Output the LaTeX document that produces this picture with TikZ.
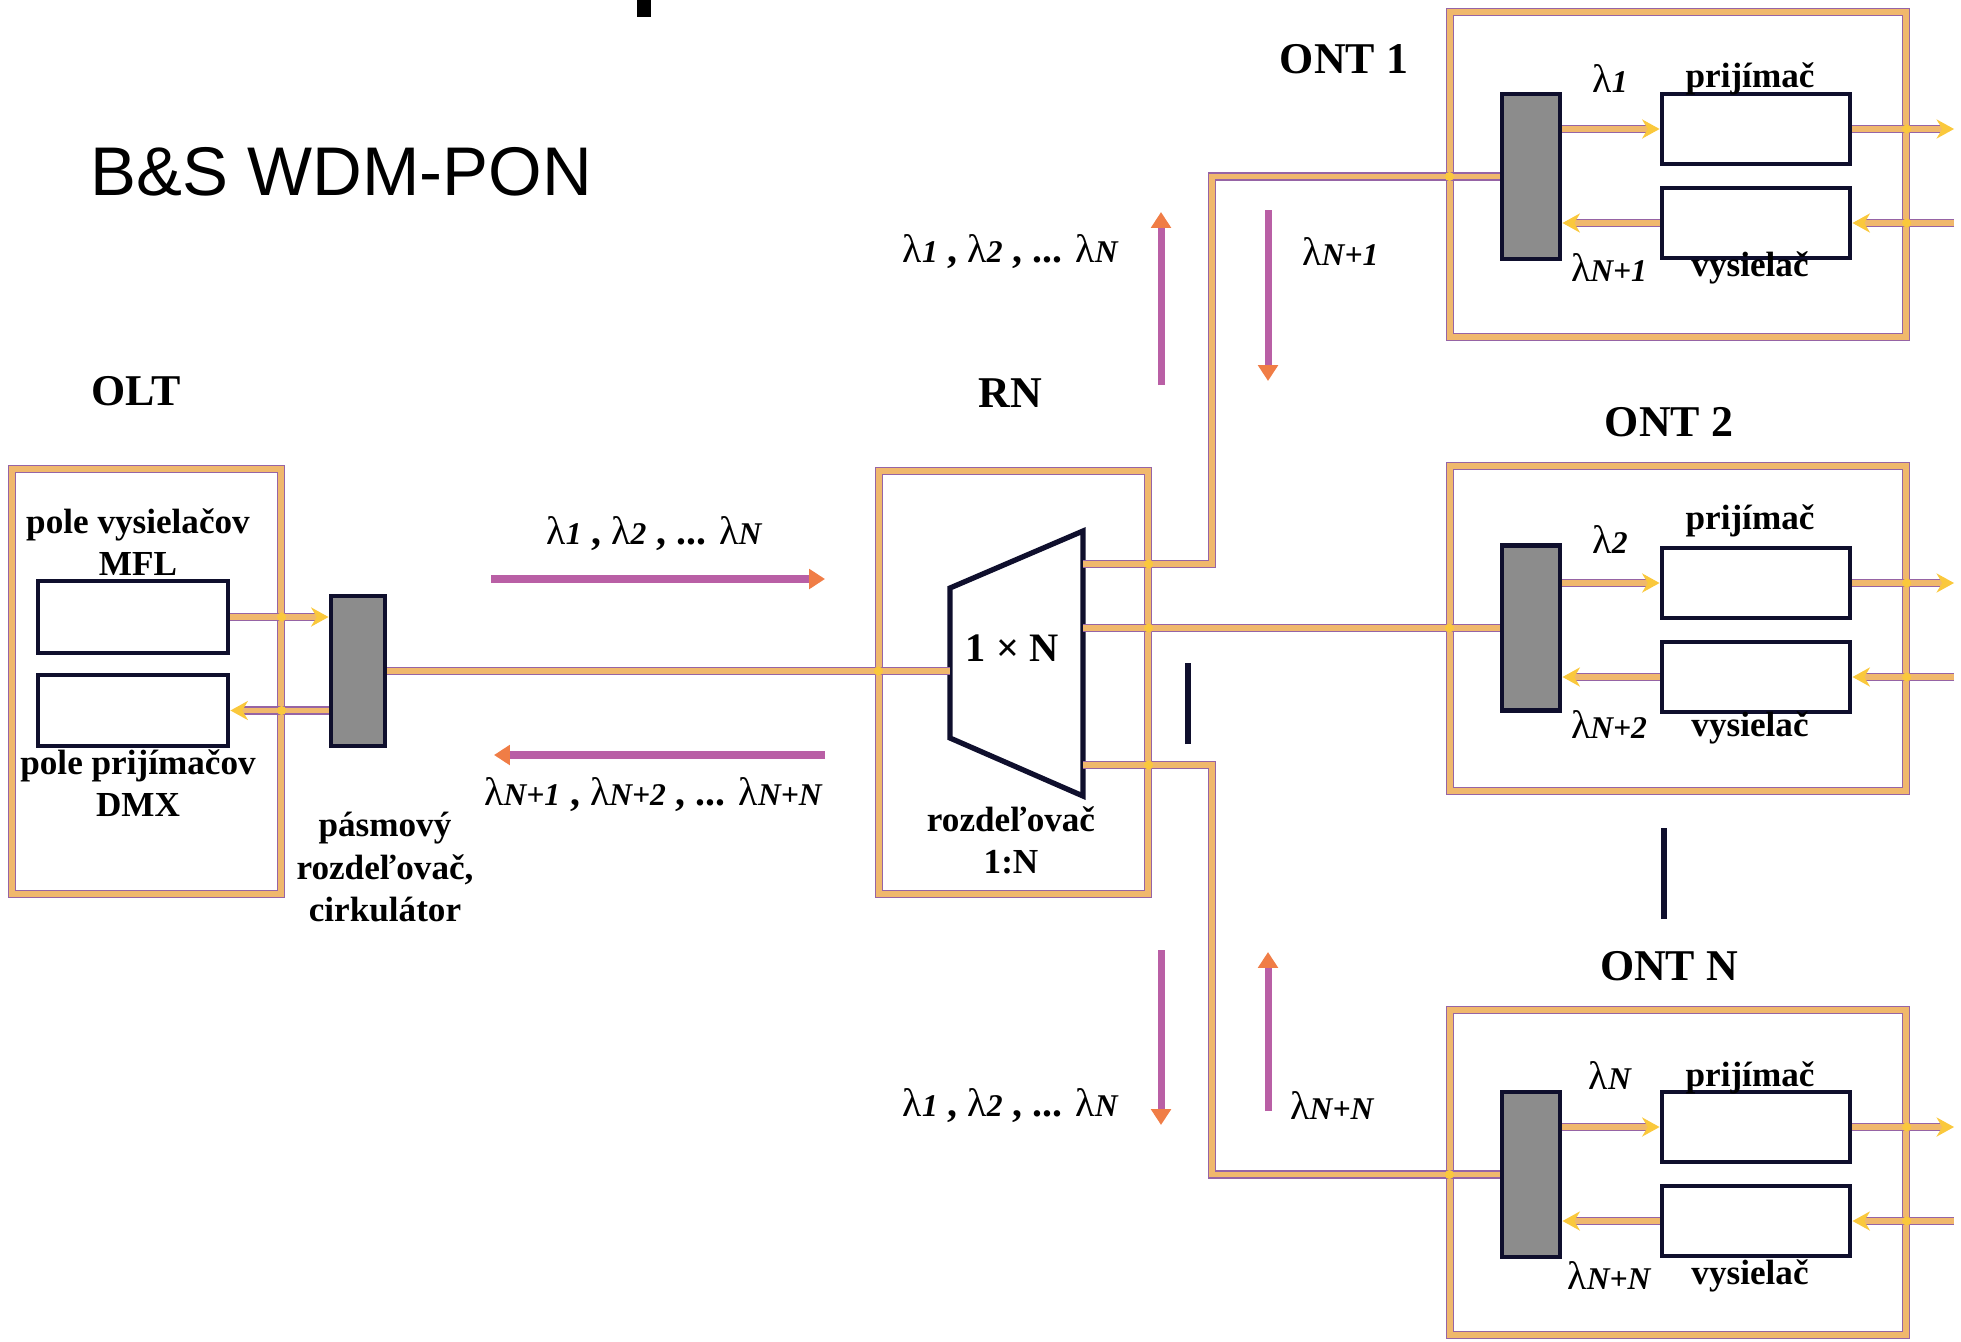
\documentclass[tikz,border=0pt]{standalone}
\usepackage{fontspec}
\setmainfont{Liberation Serif}
\setsansfont{Liberation Sans}
\definecolor{ponfiber}{RGB}{240,184,108}
\definecolor{ponedge}{RGB}{150,100,165}
\definecolor{ponyellow}{RGB}{250,200,60}
\definecolor{ponnavy}{RGB}{15,15,45}
\definecolor{pongray}{RGB}{140,140,140}
\definecolor{ponpurple}{RGB}{185,95,165}
\definecolor{ponorange}{RGB}{240,125,70}
\usetikzlibrary{arrows.meta,positioning,calc}
\newcommand{\lam}[1]{λ{\bfseries\itshape\small #1}}

\begin{document}
\begin{tikzpicture}[
  site/.style={draw=ponedge,double=ponfiber,double distance=1.6pt,line width=0.35pt,inner sep=0pt},
  fiber/.style={draw=ponedge,double=ponfiber,double distance=1.6pt,line width=0.35pt},
  sig/.style={fiber,-{Stealth[length=5pt,width=5.5pt,color=ponyellow]}},
  dev/.style={draw=ponnavy,line width=1.4pt,fill=white,inner sep=0pt},
  band/.style={dev,fill=pongray},
  warr/.style={ponpurple,line width=2pt,-{Triangle[length=4.5pt,width=5.5pt,color=ponorange]}},
  lbl/.style={font=\bfseries,align=center},
  head/.style={font=\fontsize{12.5}{15}\selectfont\bfseries},
  wl/.style={font=\fontsize{11.3}{13.5}\selectfont}
]
  \useasboundingbox (0,0) rectangle (19.61,13.41);
  \fill (6.37,13.24) rectangle (6.51,13.41);
  \node[font=\fontsize{19.6}{24}\selectfont\sffamily,anchor=west,inner sep=0pt] (title) at (0.90,11.69) {B\&S WDM-PON};
  % OLT
  \node[head] (oltlbl) at (1.36,9.50) {OLT};
  \node[site,minimum width=2.69cm,minimum height=4.25cm] (olt) at (1.465,6.595) {};
  \node[dev,minimum width=1.90cm,minimum height=0.72cm] (tx) at (1.33,7.24) {};
  \node[dev,minimum width=1.90cm,minimum height=0.71cm] (rx) at (1.33,6.305) {};
  \node[lbl] (txlbl) at (1.38,7.99) {pole vysielačov\\MFL};
  \node[lbl] (rxlbl) at (1.38,5.58) {pole prijímačov\\DMX};
  \node[band,minimum width=0.54cm,minimum height=1.50cm] (band) at (3.58,6.70) {};
  \node[lbl] (bandlbl) at (3.85,4.74) {pásmový\\rozdeľovač,\\cirkulátor};
  % RN
  \node[head] (rnlbl) at (10.10,9.48) {RN};
  \node[site,minimum width=2.69cm,minimum height=4.23cm] (rn) at (10.135,6.585) {};
  \draw[ponnavy,line width=1.5pt] (9.50,6.03) -- (9.50,7.53) -- (10.83,8.10) -- (10.83,5.45) -- cycle;
  \coordinate (splin) at (9.50,6.70);
  \coordinate (splo1) at (10.83,7.77);
  \coordinate (splo2) at (10.83,7.13);
  \coordinate (splo3) at (10.83,5.76);
  \node[font=\fontsize{11.5}{14}\selectfont\bfseries] (spl) at (10.12,6.93) {1 × N};
  \node[lbl] (spllbl) at (10.11,5.01) {rozdeľovač\\1:N};
  % ONT 1
  \node[head] (ont1lbl) at (13.44,12.82) {ONT 1};
  \node[site,minimum width=4.56cm,minimum height=3.25cm] (ont1) at (16.78,11.665) {};
  \node[band,minimum width=0.58cm,minimum height=1.65cm] (g1) at (15.31,11.645) {};
  \node[dev,minimum width=1.88cm,minimum height=0.70cm] (r1) at (17.56,12.12) {};
  \node[dev,minimum width=1.88cm,minimum height=0.70cm] (t1) at (17.56,11.18) {};
  \node[wl] (l1) at (16.10,12.62) {\lam{1}};
  \node[lbl] (r1lbl) at (17.50,12.62) {prijímač};
  \node[wl] (u1) at (16.09,10.73) {\lam{N+1}};
  \node[lbl] (t1lbl) at (17.50,10.73) {vysielač};
  % ONT 2
  \node[head] (ont2lbl) at (16.69,9.19) {ONT 2};
  \node[site,minimum width=4.56cm,minimum height=3.25cm] (ont2) at (16.78,7.125) {};
  \node[band,minimum width=0.58cm,minimum height=1.65cm] (g2) at (15.31,7.13) {};
  \node[dev,minimum width=1.88cm,minimum height=0.70cm] (r2) at (17.56,7.58) {};
  \node[dev,minimum width=1.88cm,minimum height=0.70cm] (t2) at (17.56,6.64) {};
  \node[wl] (l2) at (16.10,8.01) {\lam{2}};
  \node[lbl] (r2lbl) at (17.50,8.20) {prijímač};
  \node[wl] (u2) at (16.09,6.16) {\lam{N+2}};
  \node[lbl] (t2lbl) at (17.50,6.13) {vysielač};
  % ONT N
  \node[head] (ont3lbl) at (16.69,3.75) {ONT N};
  \node[site,minimum width=4.56cm,minimum height=3.25cm] (ont3) at (16.78,1.685) {};
  \node[band,minimum width=0.58cm,minimum height=1.65cm] (g3) at (15.31,1.665) {};
  \node[dev,minimum width=1.88cm,minimum height=0.70cm] (r3) at (17.56,2.14) {};
  \node[dev,minimum width=1.88cm,minimum height=0.70cm] (t3) at (17.56,1.20) {};
  \node[wl] (l3) at (16.10,2.66) {\lam{N}};
  \node[lbl] (r3lbl) at (17.50,2.63) {prijímač};
  \node[wl] (u3) at (16.09,0.66) {\lam{N+N}};
  \node[lbl] (t3lbl) at (17.50,0.65) {vysielač};
  \coordinate (rim) at (19.54,0);
  % Fibers
  \draw[sig] (tx.east) -- (band.west |- tx.east);
  \draw[sig] (band.west |- rx.east) -- (rx.east);
  \draw[fiber] (band.east) -- (splin);
  \draw[fiber] (splo1) -- ++(1.29,0) |- (g1.west);
  \draw[fiber] (splo2) -- (splo2 -| g2.west);
  \draw[fiber] (splo3) -- ++(1.29,0) |- (g3.west);
  \draw[sig] (g1.east |- r1.west) -- (r1.west);
  \draw[sig] (t1.west) -- (g1.east |- t1.west);
  \draw[sig] (r1.east) -- (r1.east -| rim);
  \draw[sig] (t1.east -| rim) -- (t1.east);
  \draw[sig] (g2.east |- r2.west) -- (r2.west);
  \draw[sig] (t2.west) -- (g2.east |- t2.west);
  \draw[sig] (r2.east) -- (r2.east -| rim);
  \draw[sig] (t2.east -| rim) -- (t2.east);
  \draw[sig] (g3.east |- r3.west) -- (r3.west);
  \draw[sig] (t3.west) -- (g3.east |- t3.west);
  \draw[sig] (r3.east) -- (r3.east -| rim);
  \draw[sig] (t3.east -| rim) -- (t3.east);
  % Crossings
  \fill[ponyellow] (olt.east |- tx.east) circle (1.3pt) (olt.east |- rx.east) circle (1.3pt)
    (rn.west |- splin) circle (1.3pt) (rn.east |- splo1) circle (1.3pt)
    (rn.east |- splo2) circle (1.3pt) (rn.east |- splo3) circle (1.3pt)
    (ont1.west |- g1.west) circle (1.3pt) (ont2.west |- g2.west) circle (1.3pt)
    (ont3.west |- g3.west) circle (1.3pt)
    (ont1.east |- r1.east) circle (1.3pt) (ont1.east |- t1.east) circle (1.3pt)
    (ont2.east |- r2.east) circle (1.3pt) (ont2.east |- t2.east) circle (1.3pt)
    (ont3.east |- r3.east) circle (1.3pt) (ont3.east |- t3.east) circle (1.3pt);
  % Wavelengths
  \node[wl] (dslbl) at (6.54,8.07) {\lam{1} \textbf{,} \lam{2} \textbf{, ...} \lam{N}};
  \node[wl] (uslbl) at (6.53,5.46) {\lam{N+1} \textbf{,} \lam{N+2} \textbf{, ...} \lam{N+N}};
  \node[wl,anchor=east] (ds1lbl) at (11.30,10.89) {\lam{1} \textbf{,} \lam{2} \textbf{, ...} \lam{N}};
  \node[wl,anchor=west] (us1lbl) at (12.90,10.89) {\lam{N+1}};
  \node[wl,anchor=east] (ds3lbl) at (11.30,2.35) {\lam{1} \textbf{,} \lam{2} \textbf{, ...} \lam{N}};
  \node[wl,anchor=west] (us3lbl) at (12.78,2.35) {\lam{N+N}};
  \coordinate (dsa) at (4.91,7.62); \coordinate (dsb) at (8.25,7.62);
  \coordinate (usa) at (8.25,5.86); \coordinate (usb) at (4.94,5.86);
  \coordinate (ua1) at (11.61,9.56); \coordinate (ub1) at (11.61,11.29);
  \coordinate (da1) at (12.68,11.31); \coordinate (db1) at (12.68,9.60);
  \coordinate (da3) at (11.61,3.91); \coordinate (db3) at (11.61,2.16);
  \coordinate (ua3) at (12.68,2.30); \coordinate (ub3) at (12.68,3.89);
  \draw[warr] (dsa) -- (dsb);
  \draw[warr] (usa) -- (usb);
  \draw[warr] (ua1) -- (ub1);
  \draw[warr] (da1) -- (db1);
  \draw[warr] (da3) -- (db3);
  \draw[warr] (ua3) -- (ub3);
  % Continuation marks
  \draw[ponnavy,line width=1.6pt] (11.88,5.97) -- (11.88,6.78);
  \draw[ponnavy,line width=1.6pt] (16.64,4.22) -- (16.64,5.13);
\end{tikzpicture}
\end{document}
